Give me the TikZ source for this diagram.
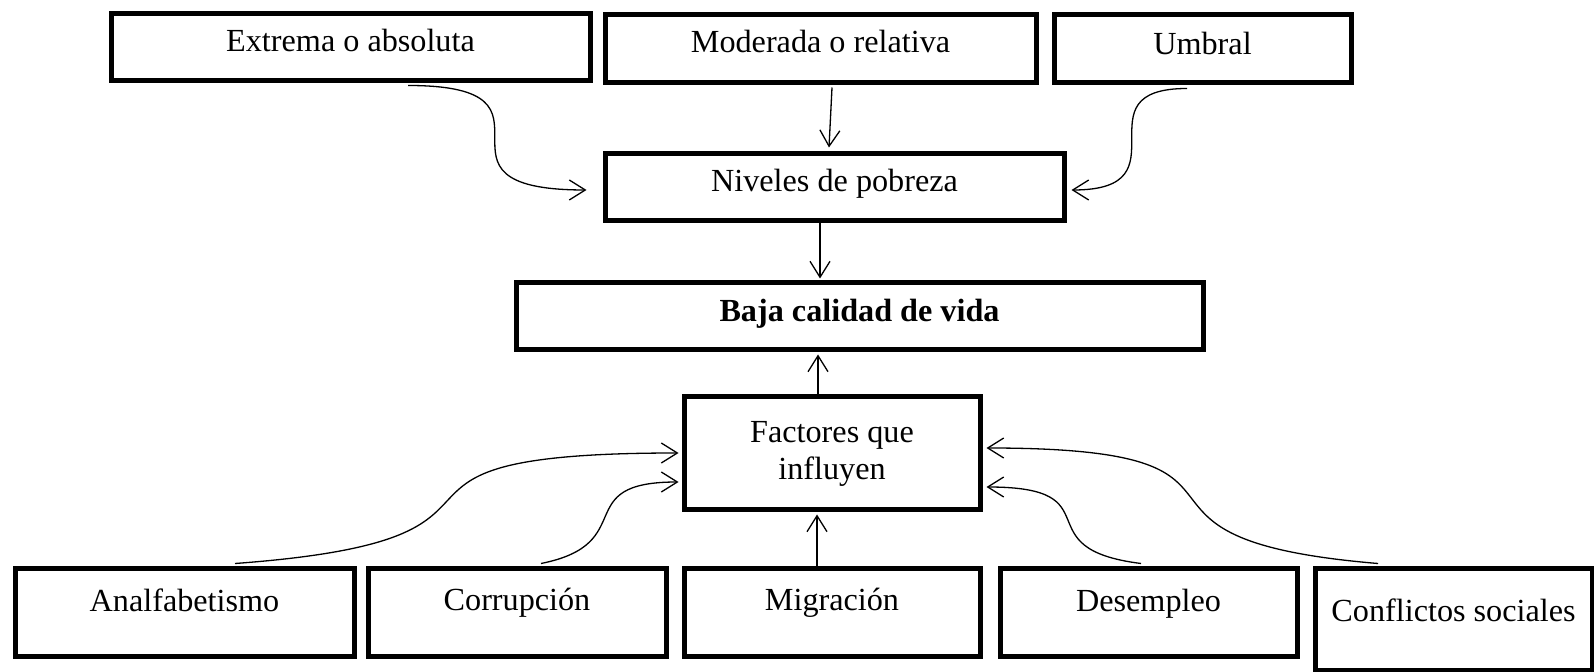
\documentclass[tikz,border=0pt]{standalone}
\usepackage{fontspec}
\setmainfont{Liberation Serif}
\usetikzlibrary{arrows.meta,calc}
\begin{document}
\begin{tikzpicture}[x=0.5pt,y=-0.5pt,
  box/.style={draw, line width=2.5pt, rectangle, inner sep=0pt,
    font=\fontsize{16.1}{18.5}\selectfont},
  arr/.style={line width=0.65pt, -{Straight Barb[length=8pt,width=10pt,line width=0.65pt]}}]
\useasboundingbox (0,0) rectangle (1594,672);
% top row
\node[box, minimum width=239.5pt, minimum height=33.5pt, text height=12pt, text depth=7.5pt] (ext) at (350.5,47.5) {Extrema o absoluta};
\node[box, minimum width=215.5pt, minimum height=34pt, text height=12pt, text depth=8pt] (mod) at (820.5,49) {Moderada o relativa};
\node[box, minimum width=148.5pt, minimum height=34pt, text height=12pt, text depth=6pt] (umb) at (1202.5,49) {Umbral};
% middle
\node[box, minimum width=229.5pt, minimum height=33.5pt, text height=12pt, text depth=7.5pt] (niv) at (834.5,187.5) {Niveles de pobreza};
\node[box, minimum width=343.5pt, minimum height=33.5pt, text height=12pt, text depth=6.5pt] (baj) at (859.5,316.5) {\bfseries Baja calidad de vida};
\node[box, minimum width=148pt, minimum height=56.5pt, align=center] (fac) at (832,453.5) {Factores que\\influyen};
% bottom row
\node[box, minimum width=169.5pt, minimum height=43.5pt, text height=12pt, text depth=13.5pt] (ana) at (184.5,612.5) {Analfabetismo};
\node[box, minimum width=149pt, minimum height=43.5pt, text height=12pt, text depth=14pt] (cor) at (517,612.5) {Corrupción};
\node[box, minimum width=148pt, minimum height=43.5pt, text height=12pt, text depth=14pt] (mig) at (832,612.5) {Migración};
\node[box, minimum width=148.5pt, minimum height=43.5pt, text height=12pt, text depth=13pt] (des) at (1148.5,612.5) {Desempleo};
\node[box, minimum width=138.5pt, minimum height=50.5pt, text height=12pt, text depth=10pt] (con) at (1453.5,619.5) {Conflictos sociales};
% connectors top
\draw[arr] ($(ext.south)+(57.5,2)$) .. controls +(175,0) and +(-181,0) .. ($(niv.west)+(-16,2.5)$);
\draw[arr] ($(mod.south)+(11.5,2)$) -- ($(niv.north)+(-5.5,-4)$);
\draw[arr] ($(umb.south)+(-15.5,3)$) .. controls +(-112,0) and +(118,0) .. ($(niv.east)+(5,2.5)$);
\draw[arr] ($(niv.south)+(-14.5,0)$) -- ($(baj.north)+(-39.5,-2)$);
\draw[arr] ($(fac.north)+(-14,0)$) -- ($(baj.south)+(-41.5,2)$);
% connectors bottom
\draw[arr] ($(mig.north)+(-15,0)$) -- ($(fac.south)+(-15,2)$);
\draw[arr] ($(ana.north)+(50.5,-3)$) .. controls +(340,-25) and +(-360,0) .. ($(fac.west)+(-3,-0.5)$);
\draw[arr] ($(cor.north)+(24,-3)$) .. controls +(100,-20) and +(-110,0) .. ($(fac.west)+(-3,28.5)$);
\draw[arr] ($(des.north)+(-7.5,-3)$) .. controls +(-120,-15) and +(130,0) .. ($(fac.east)+(4,33.5)$);
\draw[arr] ($(con.north)+(-75.5,-3)$) .. controls +(-300,-25) and +(320,0) .. ($(fac.east)+(4,-5.5)$);
\end{tikzpicture}
\end{document}
